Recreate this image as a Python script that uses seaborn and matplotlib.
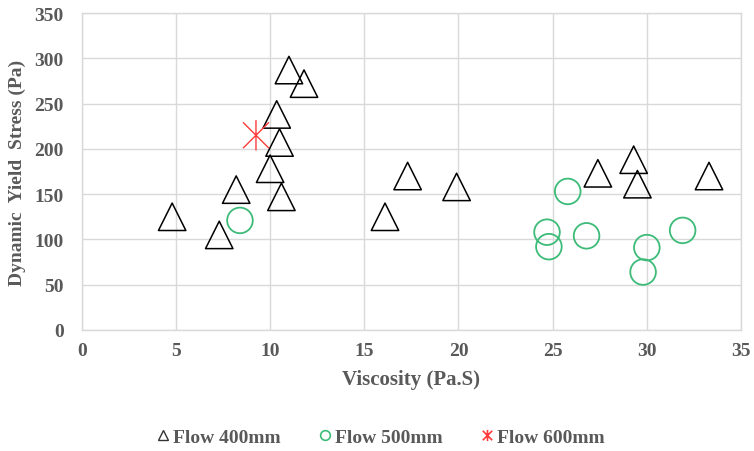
import seaborn as sns
import matplotlib.pyplot as plt
from matplotlib.lines import Line2D
from matplotlib.path import Path

# Flow 400mm (triangles)
visc_400 = [4.8, 7.3, 8.2, 10.0, 10.35, 10.5, 10.6, 11.0, 11.8, 16.1, 17.3, 19.9, 27.4, 29.3, 29.5, 33.3]
yield_400 = [125, 105, 155, 178, 238, 207, 147, 287, 272, 125, 170, 158, 173, 188, 161, 170]

# Flow 500mm (circles)
visc_500 = [8.4, 24.7, 24.8, 25.8, 26.8, 29.8, 30.0, 31.9]
yield_500 = [121, 108, 92, 153, 104, 64, 91, 110]

# Flow 600mm (star)
visc_600 = [9.25]
yield_600 = [215]

labels = ["Flow 400mm", "Flow 500mm", "Flow 600mm"]

grey = "#595959"
green = "#3dbb78"
red = "#ff3b3b"

sns.set_style("white")
plt.rcParams["font.family"] = ["Liberation Serif", "DejaVu Serif"]

star = Path([(0, -1), (0, 1), (-0.85, -0.85), (0.85, 0.85), (-0.85, 0.85), (0.85, -0.85)],
            [Path.MOVETO, Path.LINETO, Path.MOVETO, Path.LINETO, Path.MOVETO, Path.LINETO])

fig = plt.figure(figsize=(7.54, 4.52), dpi=100)
ax = fig.add_axes([0.1084, 0.2677, 0.8744, 0.7013])

sns.scatterplot(x=visc_400, y=yield_400, marker="^", s=390, facecolors="none",
                edgecolor="black", linewidth=1.1, ax=ax, zorder=3)
sns.scatterplot(x=visc_500, y=yield_500, marker="o", s=340, facecolors="none",
                edgecolor=green, linewidth=1.3, ax=ax, zorder=3)
sns.scatterplot(x=visc_600, y=yield_600, marker=star, s=480, facecolors="none",
                edgecolor=red, linewidth=1.0, ax=ax, zorder=3)

ax.set_xlim(0, 35)
ax.set_ylim(0, 350)
ax.set_xticks(range(0, 36, 5))
ax.set_yticks(range(0, 351, 50))
ax.grid(True, color="#d9d9d9", linewidth=1.0)
ax.set_axisbelow(True)
for sp in ax.spines.values():
    sp.set_color("#d9d9d9")
    sp.set_linewidth(1.0)
ax.tick_params(length=0, labelsize=14, labelcolor=grey)
ax.tick_params(axis="y", pad=13)
ax.tick_params(axis="x", pad=9)
for t in ax.get_xticklabels() + ax.get_yticklabels():
    t.set_fontweight("bold")

ax.set_xlabel("Viscosity (Pa.S)", fontsize=15, fontweight="bold", color=grey, labelpad=7)
ax.set_ylabel("Dynamic  Yield  Stress (Pa)", fontsize=14, fontweight="bold", color=grey, labelpad=6)

handles = [
    Line2D([], [], marker="^", linestyle="none", markersize=7, markerfacecolor="none",
           markeredgecolor="#333333", markeredgewidth=1.0),
    Line2D([], [], marker="o", linestyle="none", markersize=7, markerfacecolor="none",
           markeredgecolor=green, markeredgewidth=1.2),
    Line2D([], [], marker=star, linestyle="none", markersize=8, markerfacecolor="none",
           markeredgecolor=red, markeredgewidth=1.2),
]
leg = fig.legend(handles, labels, loc="center", bbox_to_anchor=(0.505, 0.031), ncol=3,
                 frameon=False, handlelength=0.6, handletextpad=0.2, columnspacing=2.0,
                 prop={"size": 14, "weight": "bold"})
for t in leg.get_texts():
    t.set_color(grey)

fig.savefig("out.png", dpi=100)
